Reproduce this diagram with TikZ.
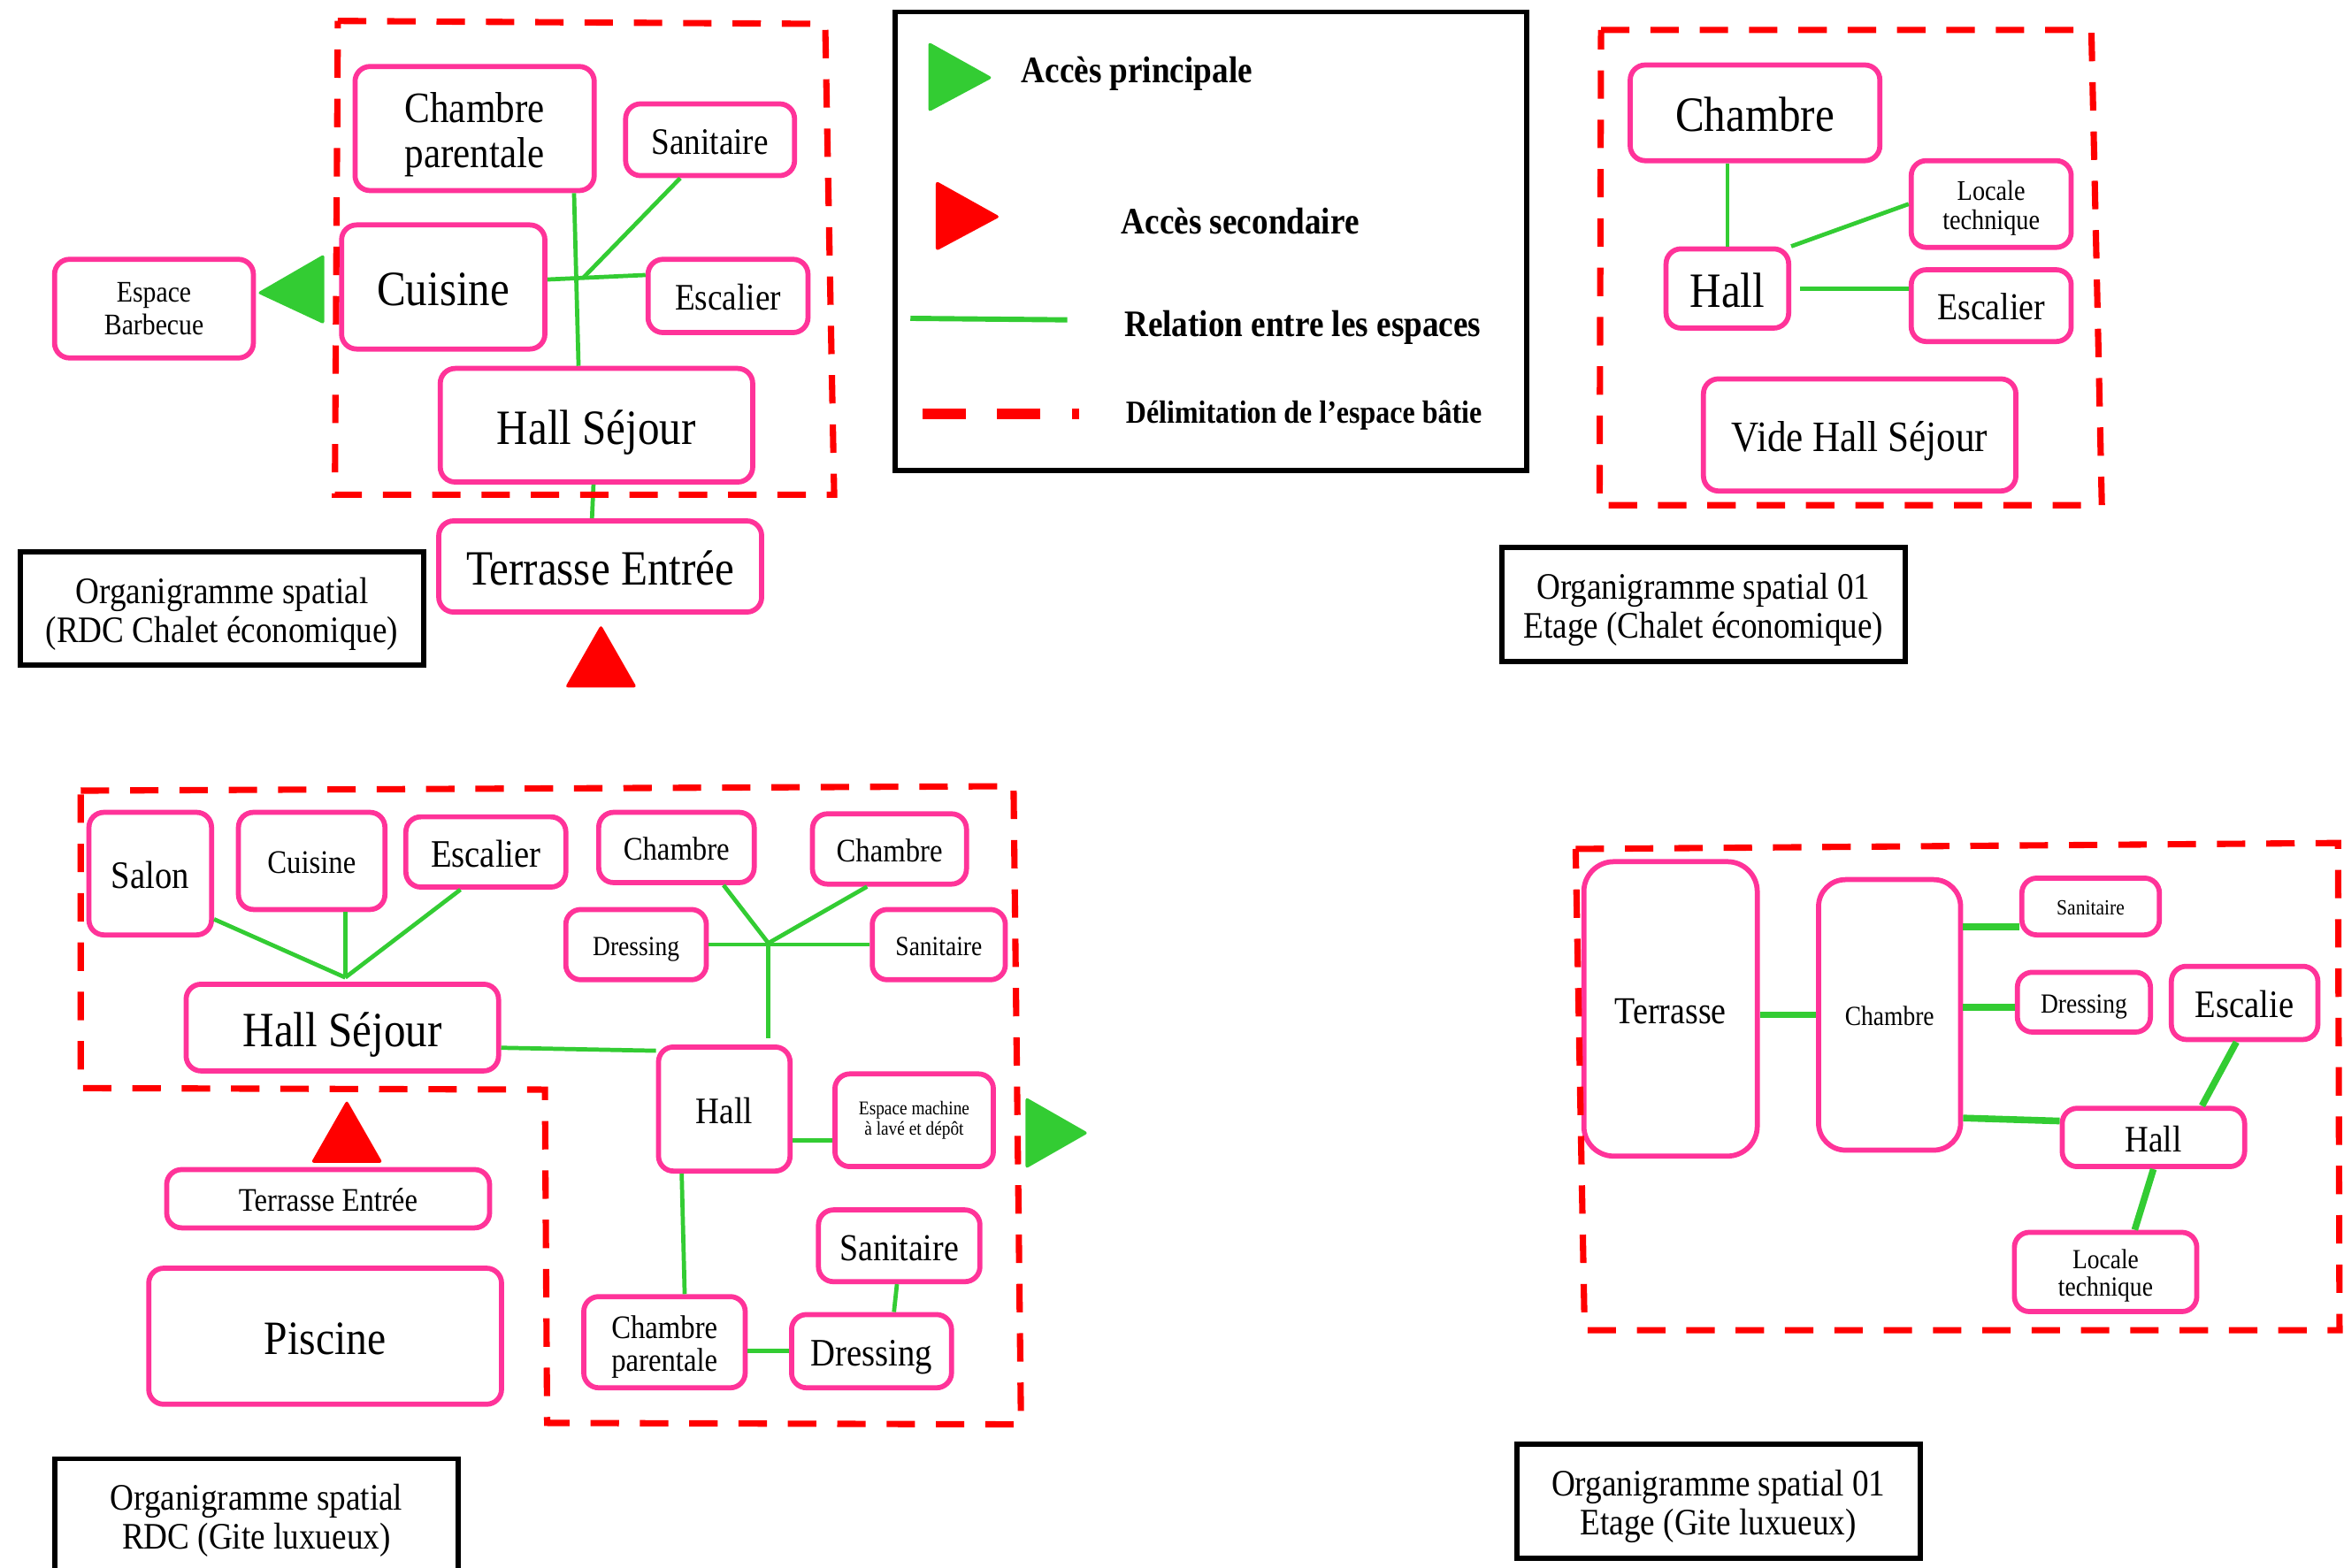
\documentclass[tikz,border=0pt]{standalone}
\usepackage{fontspec}
\setmainfont{Liberation Serif}[FakeStretch=0.88]

\definecolor{roompink}{RGB}{255,51,153}
\definecolor{linkgreen}{RGB}{51,204,51}
\definecolor{limitred}{RGB}{255,0,0}
% strut: same height and depth for every label
\newcommand\sst{\rule[-0.22em]{0pt}{1.2em}}

\begin{document}
\begin{tikzpicture}[
  x=1pt,y=-1pt,
  fs/.style 2 args={font=\fontsize{#1}{#2}\selectfont},
  sz/.style 2 args={minimum width=#1pt,minimum height=#2pt},
  room/.style={draw=roompink,line width=3.4pt,rounded corners=10pt,align=center,inner sep=0pt},
  caption/.style={draw=black,line width=3.5pt,align=center,inner sep=0pt,sz={270}{76},fs={25}{26}},
  legtext/.style={anchor=west,inner sep=0pt,font=\fontsize{#1}{#1}\selectfont\bfseries},
  link/.style={draw=linkgreen,line width=2.8pt},
  limit/.style={draw=limitred,line width=4.2pt,dash pattern=on 19pt off 14pt},
  accessmain/.style={fill=linkgreen,rounded corners=2pt},
  accesssec/.style={fill=limitred,rounded corners=2pt}
]
\useasboundingbox (0,0) rectangle (1568,1049);
\clip (0,0) rectangle (1568,1049);

% RDC chalet economique
\node[room,sz={160}{83},fs={29}{30}] (cp1) at (317.5,86) {\sst Chambre\\parentale};
\node[room,sz={113}{48},fs={25}{26}] (san1) at (475,93.5) {\sst Sanitaire};
\node[room,sz={136}{83},fs={33}{34}] (cui1) at (296.5,192) {\sst Cuisine};
\node[room,sz={107}{49},fs={25}{26}] (esc1) at (487,198) {\sst Escalier};
\node[room,sz={133}{66},fs={20}{22}] (bbq1) at (103,206.5) {Espace\\Barbecue};
\node[room,sz={209}{76},fs={33}{34}] (hs1) at (399,284.5) {\sst Hall Séjour};
\node[room,sz={216}{61},fs={33}{34}] (te1) at (401.5,379) {\sst Terrasse Entrée};
\node[caption] (cap1) at (148.5,407) {\sst Organigramme spatial\\(RDC Chalet économique)};
\coordinate (j1) at (390,186);
\draw[link] ([xshift=66.5]cp1.south) -- ([xshift=-12]hs1.north);
\draw[link] ([yshift=5]cui1.east) -- ([yshift=14]esc1.west);
\draw[link] ([xshift=-20]san1.south) -- (j1);
\draw[link] ([xshift=-2]hs1.south) -- ([xshift=-5.5]te1.north);
\draw[limit] (226,14) -- (552,16) -- (558,331) -- (224,331) -- cycle;
\fill[accessmain] (172,196) -- (217,170) -- (217,217) -- cycle;
\fill[accesssec] (402,418) -- (426,460) -- (378,460) -- cycle;

% legende
\node[draw=black,line width=3.5pt,sz={422}{307}] (legend) at (810,161.5) {};
\fill[accessmain] (621,28) -- (664,52) -- (621,75) -- cycle;
\fill[accesssec] (626,121) -- (669,145) -- (626,168) -- cycle;
\coordinate (lg1) at (609,213);
\coordinate (lg2) at (714,214);
\draw[link,line width=3.5pt] (lg1) -- (lg2);
\coordinate (ld1) at (617,277);
\coordinate (ld2) at (722,277);
\draw[limit,line width=7pt,dash pattern=on 29pt off 21pt] (ld1) -- (ld2);
\node[legtext=25] (lgmain) at (683,49.5) {Accès principale};
\node[legtext=25] (lgsec) at (750,148) {Accès secondaire};
\node[legtext=25] (lgrel) at (752,219) {Relation entre les espaces};
\node[legtext=21.5] (lglim) at (753,278) {Délimitation de l’espace bâtie};

% etage chalet economique
\node[room,sz={167}{64},fs={33}{34}] (ch2) at (1174,75.5) {\sst Chambre};
\node[room,sz={107}{58},fs={19}{19}] (lt2) at (1332,136.5) {\sst Locale\\technique};
\node[room,sz={82}{53},fs={33}{34}] (hall2) at (1155.5,193) {\sst Hall};
\node[room,sz={107}{48},fs={25.5}{26}] (esc2) at (1332,204.5) {\sst Escalier};
\node[room,sz={209}{75},fs={29}{30}] (vhs2) at (1244,291) {\sst Vide Hall Séjour};
\node[caption] (cap2) at (1139.5,404.5) {\sst Organigramme spatial 01\\Etage (Chalet économique)};
\draw[link] (hall2.north) -- (hall2.north |- ch2.south);
\draw[link] (hall2.north east) -- (lt2.west);
\draw[link] ([xshift=6]hall2.east) -- (hall2.east -| esc2.west);
\draw[limit] (1071,20) -- (1399,20) -- (1406,338) -- (1070,338) -- cycle;

% RDC gite luxueux
\node[room,sz={82}{82},fs={26}{27}] (salon3) at (100.5,584.5) {\sst Salon};
\node[room,sz={98}{65},fs={22}{23}] (cui3) at (208.5,576) {\sst Cuisine};
\node[room,sz={107}{47},fs={26}{27}] (esc3) at (325,570) {\sst Escalier};
\node[room,sz={104}{47},fs={22}{23}] (ch3a) at (452.5,567) {\sst Chambre};
\node[room,sz={103}{47},fs={22}{23}] (ch3b) at (595,568) {\sst Chambre};
\node[room,sz={94}{47},fs={18.5}{19}] (dr3) at (425.5,632) {\sst Dressing};
\node[room,sz={89}{47},fs={18.5}{19}] (san3) at (628,632) {\sst Sanitaire};
\node[room,sz={209}{58},fs={33}{34}] (hs3) at (229,687.5) {\sst Hall Séjour};
\node[room,sz={88}{83},fs={25}{26}] (hall3) at (484.5,742) {\sst Hall};
\node[room,sz={106}{62},fs={13}{14}] (mach3) at (611.5,749.5) {Espace machine\\à lavé et dépôt};
\node[room,sz={216}{39},fs={22}{23}] (te3) at (219.5,802) {\sst Terrasse Entrée};
\node[room,sz={236}{91},fs={32}{33}] (pisc3) at (217.5,894) {\sst Piscine};
\node[room,sz={108}{48},fs={25.5}{26}] (san3b) at (601.5,833.5) {\sst Sanitaire};
\node[room,sz={108}{61},fs={22}{22}] (cp3) at (444.5,898) {\sst Chambre\\parentale};
\node[room,sz={107}{49},fs={26}{27}] (dr3b) at (583,904) {\sst Dressing};
\node[caption] (cap3) at (171.5,1014) {\sst Organigramme spatial\\RDC (Gite luxueux)};
\coordinate (j3) at (231,654);
\coordinate (j4) at (514,631);
\draw[link] ([yshift=-30.5]salon3.east) -- (j3);
\draw[link] ([xshift=22.5]cui3.south) -- (j3);
\draw[link] ([xshift=-17]esc3.south) -- (j3);
\draw[link] ([xshift=31.5]ch3a.south) -- (j4);
\draw[link] ([xshift=-15]ch3b.south) -- (j4);
\draw[link] (dr3.east) -- (san3.west);
\draw[link] (j4) -- ([xshift=29.5,yshift=4]hall3.north);
\draw[link] ([yshift=-13.5]hs3.east) -- ([yshift=39]hall3.west);
\draw[link] ([yshift=-21]hall3.east) -- ([yshift=-13.5]mach3.west);
\draw[link] ([xshift=-28.5]hall3.south) -- ([xshift=13.5]cp3.north);
\draw[link] (dr3b.west -| cp3.east) -- (dr3b.west);
\draw[link] ([xshift=-1.5]san3b.south) -- ([xshift=15]dr3b.north);
\draw[limit] (54,529) -- (678,526) -- (683,953) -- (366,952) -- (364.5,729) -- (54,728) -- cycle;
\fill[accesssec] (232,736) -- (256,778) -- (208,778) -- cycle;
\fill[accessmain] (686,734) -- (728,758) -- (686,782) -- cycle;

% etage gite luxueux
\node[room,sz={116}{197},rounded corners=20pt,fs={25.5}{26}] (terr4) at (1117.5,675) {\sst Terrasse};
\node[room,sz={95}{181},rounded corners=18pt,fs={18.5}{19}] (ch4) at (1264,679) {\sst Chambre};
\node[room,sz={92}{38},fs={14.5}{15}] (san4) at (1398.5,606.5) {\sst Sanitaire};
\node[room,sz={89}{40},fs={18.5}{19}] (dr4) at (1394,670.5) {\sst Dressing};
\node[room,sz={98}{49},fs={26}{27}] (esc4) at (1501.5,671) {\sst Escalie};
\node[room,sz={122}{39},fs={25}{26}] (hall4) at (1440.5,761) {\sst Hall};
\node[room,sz={122}{53},fs={18.5}{18.5}] (lt4) at (1408.5,851) {\sst Locale\\technique};
\node[caption] (cap4) at (1149.5,1004.5) {\sst Organigramme spatial 01\\Etage (Gite luxueux)};
\draw[link,line width=4.5pt] ([yshift=-4]terr4.east) -- (ch4.west);
\draw[link,line width=4.5pt] ([yshift=59]ch4.east) -- ([yshift=-13.5]san4.west);
\draw[link,line width=4.5pt] ([yshift=5]ch4.east) -- ([yshift=-3.5]dr4.west);
\draw[link,line width=4.5pt] ([yshift=-69]ch4.east) -- ([yshift=11]hall4.west);
\draw[link,line width=4.5pt] ([xshift=-5.5]esc4.south) -- ([xshift=32.5]hall4.north);
\draw[link,line width=4.5pt] (hall4.south) -- ([xshift=19.5]lt4.north);
\draw[limit] (1054,568) -- (1564,564) -- (1565,890) -- (1060,890) -- cycle;
\end{tikzpicture}
\end{document}
